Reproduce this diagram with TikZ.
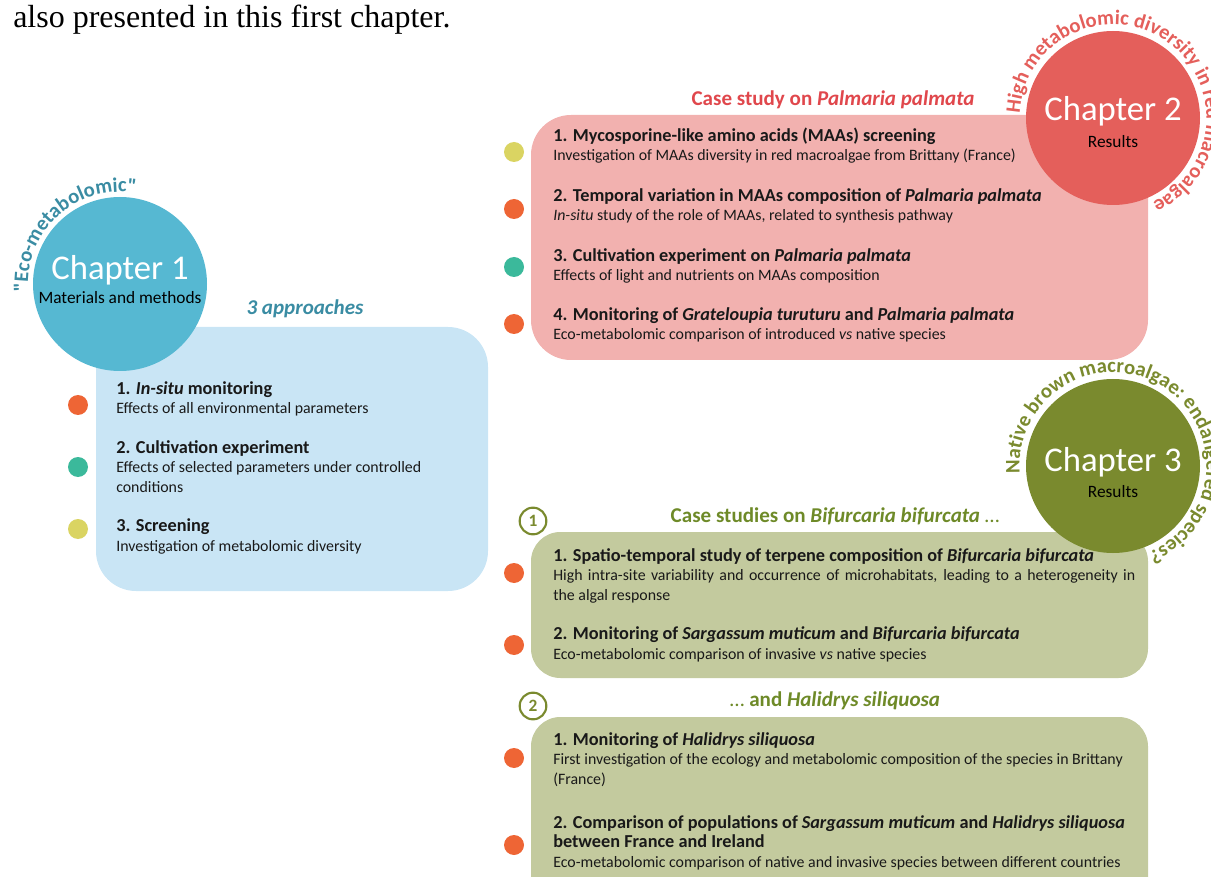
\documentclass[tikz,border=0pt]{standalone}
\usepackage{fontspec}
\setmainfont{Carlito}
\newfontfamily\serifbody{Liberation Serif}
\newfontfamily\arcfamily{Carlito}[Ligatures=TeXOff]
\usepackage{tikz}
\usetikzlibrary{positioning,calc,decorations.text}

\definecolor{chapblue}{HTML}{56B8D2}
\definecolor{boxblue}{HTML}{C9E5F5}
\definecolor{textblue}{HTML}{3A8CA3}
\definecolor{chapred}{HTML}{E45F5B}
\definecolor{boxred}{HTML}{F2B1AF}
\definecolor{textred}{HTML}{E0474C}
\definecolor{chapolive}{HTML}{7A8A2E}
\definecolor{boxolive}{HTML}{C3CA9E}
\definecolor{textolive}{HTML}{6E8A28}
\definecolor{dotorange}{HTML}{EE6535}
\definecolor{dotteal}{HTML}{3BB99B}
\definecolor{dotyellow}{HTML}{DAD462}

\newcommand\arcfont{\arcfamily\fontsize{15.5}{18}\selectfont\bfseries}
\newcommand\itemtitle[1]{{\fontsize{13.7}{14.6}\selectfont\bfseries #1}}

\begin{document}
\begin{tikzpicture}[
    x=0.75pt, y=-0.75pt,
    chapter/.style={circle, minimum size=130.5pt, inner sep=0pt},
    chaptitle/.style={text=white, font=\fontsize{26}{30}\selectfont, inner sep=0pt},
    chapsub/.style={text=black, font=\fontsize{13}{15}\selectfont, inner sep=0pt},
    header/.style={font=\fontsize{15.8}{18}\selectfont\bfseries, inner sep=0pt},
    item/.style={anchor=base west, align=left, inner sep=0pt, text=black!90, font=\fontsize{11.9}{14.6}\selectfont},
    dot/.style={circle, minimum size=15pt, inner sep=0pt},
    numcircle/.style={circle, draw=chapolive, line width=1.6pt, fill=white, minimum size=20pt, inner sep=0pt, text=chapolive, font=\fontsize{13}{15}\selectfont\bfseries}
]
\clip (0,0) rectangle (1211,877);

% Intro line
\node[anchor=base west, inner sep=0pt, font=\serifbody\fontsize{24}{28}\selectfont] (intro) at (13,28) {also presented in this first chapter.};

% Panels
\fill[boxblue, rounded corners=30pt] (96,327) rectangle (488,591);
\fill[boxred, rounded corners=30pt] (531,115) rectangle (1148,360);
\fill[boxolive, rounded corners=22pt] (531,532) rectangle (1148,678);
\fill[boxolive, rounded corners=22pt] (531,717) rectangle (1148,920);

% Chapters
\node[chapter, fill=chapblue] (ch1) at (120,284) {};
\node[chaptitle] (ch1t) at ($(ch1)+(0,-14)$) {Chapter 1};
\node[chapsub] (ch1s) at ($(ch1)+(0,14)$) {Materials and methods};

\node[chapter, fill=chapred] (ch2) at (1113,118) {};
\node[chaptitle] (ch2t) at ($(ch2)+(0,-7)$) {Chapter 2};
\node[chapsub] (ch2s) at ($(ch2)+(0,24)$) {Results};

\node[chapter, fill=chapolive] (ch3) at (1113,466) {};
\node[chaptitle] (ch3t) at ($(ch3)+(0,-4)$) {Chapter 3};
\node[chapsub] (ch3s) at ($(ch3)+(0,26)$) {Results};

% Curved captions
\path[decorate, decoration={text along path, text align=center,
    text={|\arcfont\color{textblue}|"Eco-metabolomic"}}]
    (ch1.center) ++(272.5:69pt) arc[start angle=272.5, end angle=-7.5, radius=69pt];
\path[decorate, decoration={text along path, text align=center,
    text={|\arcfont\color{chapred}|High metabolomic diversity in red macroalgae}}]
    (ch2.center) ++(196:70pt) arc[start angle=196, end angle=-84, radius=70pt];
\path[decorate, decoration={text along path, text align=center,
    text={|\arcfont\color{chapolive}|Native brown macroalgae: endangered species?}}]
    (ch3.center) ++(198.5:70pt) arc[start angle=198.5, end angle=-81.5, radius=70pt];

% Headers
\node[header, text=textblue] (h1) at (305,309) {\textit{3 approaches}};
\node[header, text=textred] (h2) at (833,100) {Case study on \textit{Palmaria palmata}};
\node[header, text=textolive] (h3) at (835,516) {Case studies on \textit{Bifurcaria bifurcata} {\mdseries\ldots}};
\node[header, text=textolive] (h4) at (835,701) {{\mdseries\ldots} and \textit{Halidrys siliquosa}};
\node[numcircle] (n1) at (533,521) {1};
\node[numcircle] (n2) at (533,706) {2};

% Chapter 1 items
\node[dot, fill=dotorange] (d11) at (78,405) {};
\node[dot, fill=dotteal] (d12) at (78,467) {};
\node[dot, fill=dotyellow] (d13) at (78,529) {};
\node[item] (a1) at (116,414) {\itemtitle{1. \textit{In-situ} monitoring}\\Effects of all environmental parameters};
\node[item] (a2) at (116,492) {\itemtitle{2. Cultivation experiment}\\Effects of selected parameters under controlled\\conditions};
\node[item] (a3) at (116,551) {\itemtitle{3. Screening}\\Investigation of metabolomic diversity};

% Chapter 2 items
\node[dot, fill=dotyellow] (d21) at (514,152) {};
\node[dot, fill=dotorange] (d22) at (514,209) {};
\node[dot, fill=dotteal] (d23) at (514,267) {};
\node[dot, fill=dotorange] (d24) at (514,324) {};
\node[item] (r1) at (553,161) {\itemtitle{1. Mycosporine-like amino acids (MAAs) screening}\\Investigation of MAAs diversity in red macroalgae from Brittany (France)};
\node[item] (r2) at (553,221) {\itemtitle{2. Temporal variation in MAAs composition of \textit{Palmaria palmata}}\\\textit{In-situ} study of the role of MAAs, related to synthesis pathway};
\node[item] (r3) at (553,281) {\itemtitle{3. Cultivation experiment on \textit{Palmaria palmata}}\\Effects of light and nutrients on MAAs composition};
\node[item] (r4) at (553,340) {\itemtitle{4. Monitoring of \textit{Grateloupia turuturu} and \textit{Palmaria palmata}}\\Eco-metabolomic comparison of introduced \textit{vs} native species};

% Chapter 3 items
\node[dot, fill=dotorange] (d31) at (514,573) {};
\node[dot, fill=dotorange] (d32) at (514,645) {};
\node[dot, fill=dotorange] (d33) at (514,758) {};
\node[dot, fill=dotorange] (d34) at (514,845) {};
\node[item] (b1) at (553,600) {\itemtitle{1. Spatio-temporal study of terpene composition of \textit{Bifurcaria bifurcata}}\\\makebox[436.5pt][s]{High intra-site variability and occurrence of microhabitats, leading to a heterogeneity in}\\the algal response};
\node[item] (b2) at (553,659) {\itemtitle{2. Monitoring of \textit{Sargassum muticum} and \textit{Bifurcaria bifurcata}}\\Eco-metabolomic comparison of invasive \textit{vs} native species};
\node[item] (c1) at (553,784) {\itemtitle{1. Monitoring of \textit{Halidrys siliquosa}}\\First investigation of the ecology and metabolomic composition of the species in Brittany\\(France)};
\node[item] (c2) at (553,867) {\itemtitle{2. Comparison of populations of \textit{Sargassum muticum} and \textit{Halidrys siliquosa}}\\\itemtitle{between France and Ireland}\\Eco-metabolomic comparison of native and invasive species between different countries};

\end{tikzpicture}
\end{document}
